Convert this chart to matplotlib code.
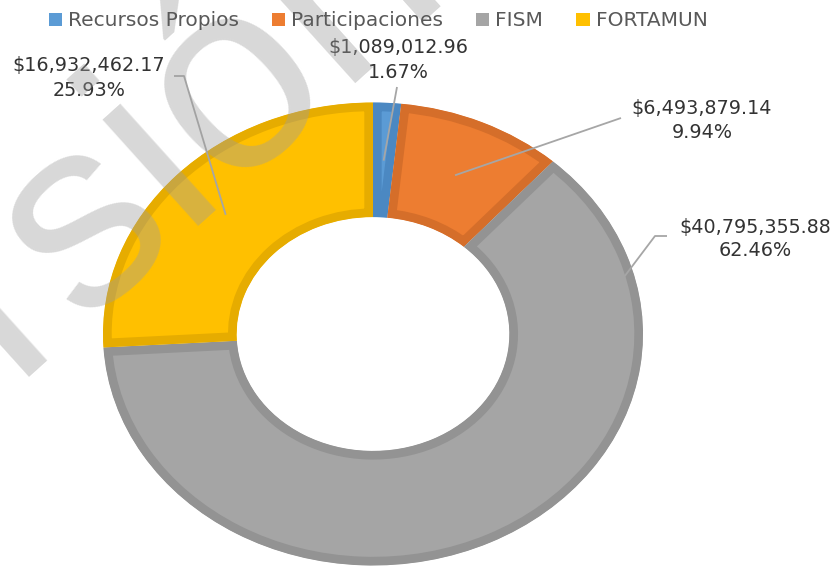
import numpy as np
import matplotlib
matplotlib.use("Agg")
import matplotlib.pyplot as plt
import matplotlib.patches as mpatches

# ---- data ----
categories = ["Recursos Propios", "Participaciones", "FISM", "FORTAMUN"]
amounts = [1089012.96, 6493879.14, 40795355.88, 16932462.17]
fill_colors = ["#5B9BD5", "#ED7D31", "#A5A5A5", "#FFC000"]
edge_colors = ["#4B88C2", "#D56E2A", "#939393", "#E6AC00"]

# ---- layout (pixels) ----
W, H = 835, 569
cx, cy, rx, ry = 373, 334, 270, 231.5
# label text centres: (x, y line1, y line2)
label_pos = [(398, 47, 72), (702, 108, 132), (755, 227, 250), (89, 65, 90)]
# leader start points (list of points before the slice point)
leader_starts = [[(397, 87)], [(621, 118)], [(667, 236), (655, 236)], [(174, 76), (184, 76)]]
# radius (fraction) & angle override for leader end
leader_r = [0.75, 0.75, 0.965, 0.75]
leader_angle_override = [None, None, 75.0, None]

plt.rcParams['font.family'] = ['DejaVu Sans']
fig = plt.figure(figsize=(W / 100, H / 100), dpi=100)

m = 1.03
pie_ax = fig.add_axes([(cx - rx * m) / W, (H - cy - ry * m) / H, 2 * rx * m / W, 2 * ry * m / H])
wedges, _ = pie_ax.pie(amounts, colors=fill_colors, startangle=90, counterclock=False,
                       radius=1.0, wedgeprops=dict(width=0.495))
for w, ec in zip(wedges, edge_colors):
    w.set_edgecolor(ec)
    w.set_linewidth(12.5)
    w.set_joinstyle('miter')
    w.set_clip_on(True)
    w.set_clip_path(w)
pie_ax.set_xlim(-m, m)
pie_ax.set_ylim(-m, m)
pie_ax.set_aspect('auto')
pie_ax.axis('off')

ov = fig.add_axes([0, 0, 1, 1], zorder=5)
ov.set_xlim(0, W)
ov.set_ylim(H, 0)
ov.axis('off')

total = sum(amounts)
fracs = [a / total for a in amounts]
cum = np.concatenate([[0], np.cumsum(fracs)[:-1]])


def pt(theta_deg, r):
    t = np.deg2rad(theta_deg)
    return cx + rx * r * np.sin(t), cy - ry * r * np.cos(t)


for i, a in enumerate(amounts):
    mid = 360 * (cum[i] + fracs[i] / 2)
    ang = leader_angle_override[i] if leader_angle_override[i] is not None else mid
    ex, ey = pt(ang, leader_r[i])
    pts = leader_starts[i] + [(ex, ey)]
    ov.plot([p[0] for p in pts], [p[1] for p in pts], color="#A6A6A6", lw=1.3,
            solid_capstyle='butt')
    x, y1, y2 = label_pos[i]
    ov.text(x, y1, f"${a:,.2f}", ha='center', va='center', fontsize=13.8, color="#333333")
    ov.text(x, y2, f"{fracs[i] * 100:.2f}%", ha='center', va='center', fontsize=13.8, color="#333333")

handles = [mpatches.Patch(facecolor=c, edgecolor='none') for c in fill_colors]
fig.legend(handles, categories, loc='center', bbox_to_anchor=(378 / W, 1 - 21 / H), ncol=4,
           frameon=False, fontsize=14.5, handlelength=0.65, handleheight=0.65,
           handletextpad=0.3, columnspacing=1.65, labelcolor='#595959',
           borderpad=0, borderaxespad=0)

# watermark
ov.text(128, 287, "versión", rotation=42, rotation_mode='anchor', ha='center', va='baseline',
        fontsize=196, color='#9E9E9E', alpha=0.4, family='Liberation Sans', zorder=10,
        clip_on=False)

fig.savefig("out.png", dpi=100)
